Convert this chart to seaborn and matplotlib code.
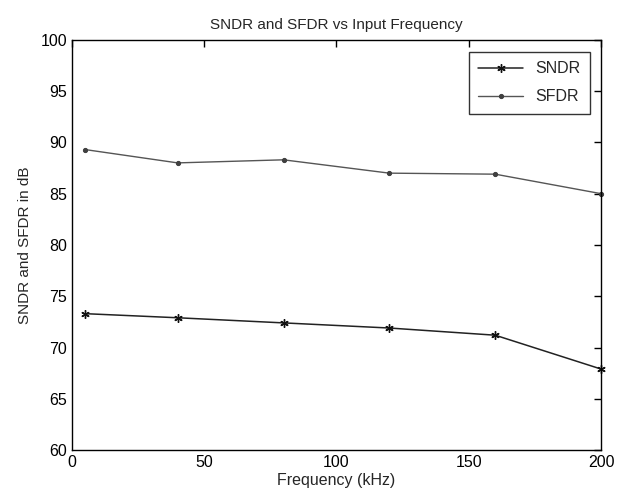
import pandas as pd
import numpy as np
import seaborn as sns
from matplotlib import pyplot as plt

# values
freq = [5, 40, 80, 120, 160, 200]
sndr = [73.3, 72.9, 72.4, 71.9, 71.2, 67.9]
sfdr = [89.3, 88.0, 88.3, 87.0, 86.9, 85.0]

sns.set_style("white")
plt.rcParams['font.family'] = ['Liberation Sans', 'DejaVu Sans']
plt.rcParams['xtick.direction'] = 'in'
plt.rcParams['ytick.direction'] = 'in'

fig = plt.figure(figsize=(6.19, 5.04), dpi=100)
ax = fig.add_axes([0.116, 0.107, 0.855, 0.814])

sns.lineplot(x=freq, y=sndr, ax=ax, color='#222222', lw=1.1, marker=(6, 2, 0),
             markersize=6, markeredgewidth=1.0, markeredgecolor='#111111',
             label='SNDR', clip_on=False)
sns.lineplot(x=freq, y=sfdr, ax=ax, color='#555555', lw=1.0, marker='.',
             markersize=6, markeredgecolor='#404040', markerfacecolor='#404040',
             label='SFDR', clip_on=False)

ax.set_xlim(0, 200)
ax.set_ylim(60, 100)
ax.set_xticks([0, 50, 100, 150, 200])
ax.set_yticks(np.arange(60, 101, 5))
ax.tick_params(top=True, right=True, length=5, width=1, labelsize=11.5, colors='black')
for s in ax.spines.values():
    s.set_color('black')
    s.set_linewidth(1.0)

ax.set_title('SNDR and SFDR vs Input Frequency', fontsize=11, pad=8)
ax.set_xlabel('Frequency (kHz)', fontsize=11.5, labelpad=2)
ax.set_ylabel('SNDR and SFDR in dB', fontsize=11, labelpad=6)

leg = ax.legend(loc='upper right', fontsize=11.5, frameon=True, fancybox=False,
                handlelength=2.8, borderpad=0.6, labelspacing=0.8,
                bbox_to_anchor=(0.995, 0.99))
leg.get_frame().set_edgecolor('black')
leg.get_frame().set_linewidth(1.0)

plt.savefig('out.png', dpi=100)
